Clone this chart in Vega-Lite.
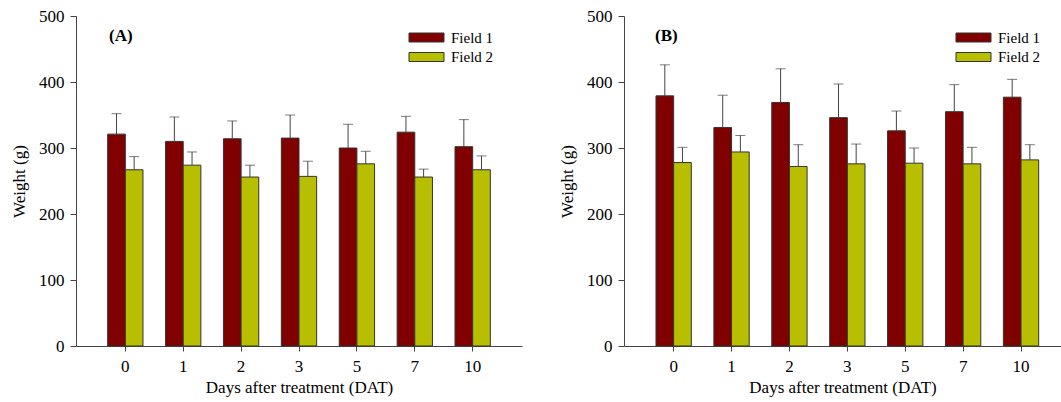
{
  "$schema": "https://vega.github.io/schema/vega-lite/v6.json",
  "padding": {"left": 10, "top": 7, "right": 0, "bottom": 5},
  "spacing": 36,
  "config": {
    "font": "Liberation Serif",
    "view": {"stroke": null},
    "axis": {
      "labelFont": "Liberation Serif", "titleFont": "Liberation Serif",
      "labelFontSize": 17, "titleFontSize": 17, "labelColor": "#000", "titleColor": "#000",
      "titleFontWeight": "normal", "domainColor": "#444", "tickColor": "#444", "grid": false, "tickSize": 6
    },
    "legend": {"labelFont": "Liberation Serif", "labelFontSize": 15, "labelColor": "#000"},
    "title": {"font": "Liberation Serif", "color": "#000"}
  },
  "datasets": {
    "d": [
      {"panel": "A", "day": "0", "field": "Field 1", "mean": 321, "upper": 352},
      {"panel": "A", "day": "0", "field": "Field 2", "mean": 267, "upper": 287},
      {"panel": "A", "day": "1", "field": "Field 1", "mean": 310, "upper": 347},
      {"panel": "A", "day": "1", "field": "Field 2", "mean": 274, "upper": 294},
      {"panel": "A", "day": "2", "field": "Field 1", "mean": 314, "upper": 341},
      {"panel": "A", "day": "2", "field": "Field 2", "mean": 256, "upper": 274},
      {"panel": "A", "day": "3", "field": "Field 1", "mean": 315, "upper": 350},
      {"panel": "A", "day": "3", "field": "Field 2", "mean": 257, "upper": 280},
      {"panel": "A", "day": "5", "field": "Field 1", "mean": 300, "upper": 336},
      {"panel": "A", "day": "5", "field": "Field 2", "mean": 276, "upper": 295},
      {"panel": "A", "day": "7", "field": "Field 1", "mean": 324, "upper": 348},
      {"panel": "A", "day": "7", "field": "Field 2", "mean": 256, "upper": 268},
      {"panel": "A", "day": "10", "field": "Field 1", "mean": 302, "upper": 343},
      {"panel": "A", "day": "10", "field": "Field 2", "mean": 267, "upper": 288},
      {"panel": "B", "day": "0", "field": "Field 1", "mean": 379, "upper": 426},
      {"panel": "B", "day": "0", "field": "Field 2", "mean": 278, "upper": 301},
      {"panel": "B", "day": "1", "field": "Field 1", "mean": 331, "upper": 380},
      {"panel": "B", "day": "1", "field": "Field 2", "mean": 294, "upper": 319},
      {"panel": "B", "day": "2", "field": "Field 1", "mean": 369, "upper": 420},
      {"panel": "B", "day": "2", "field": "Field 2", "mean": 272, "upper": 305},
      {"panel": "B", "day": "3", "field": "Field 1", "mean": 346, "upper": 397},
      {"panel": "B", "day": "3", "field": "Field 2", "mean": 276, "upper": 306},
      {"panel": "B", "day": "5", "field": "Field 1", "mean": 326, "upper": 356},
      {"panel": "B", "day": "5", "field": "Field 2", "mean": 277, "upper": 300},
      {"panel": "B", "day": "7", "field": "Field 1", "mean": 355, "upper": 396},
      {"panel": "B", "day": "7", "field": "Field 2", "mean": 276, "upper": 301},
      {"panel": "B", "day": "10", "field": "Field 1", "mean": 377, "upper": 404},
      {"panel": "B", "day": "10", "field": "Field 2", "mean": 282, "upper": 305}
    ]
  },
  "resolve": {"legend": {"color": "independent"}},
  "hconcat": [
    {
      "width": 446, "height": 330,
      "title": {"text": "(A)", "anchor": "start", "frame": "group", "offset": -51, "dx": 33, "fontSize": 17, "fontWeight": "bold", "baseline": "alphabetic"},
      "data": {"name": "d"},
      "transform": [{"filter": "datum.panel == 'A'"}],
      "encoding": {
        "x": {"field": "day", "type": "ordinal", "sort": ["0", "1", "2", "3", "5", "7", "10"],
              "scale": {"paddingInner": 0.39, "paddingOuter": 0.547},
              "axis": {"labelAngle": 0, "title": "Days after treatment (DAT)", "tickSize": 5, "labelPadding": 7, "titlePadding": 5}},
        "xOffset": {"field": "field", "type": "nominal", "sort": ["Field 1", "Field 2"], "scale": {"paddingInner": 0, "paddingOuter": 0}}
      },
      "layer": [
        {
          "mark": {"type": "bar", "stroke": "#333", "strokeWidth": 1},
          "encoding": {
            "y": {"field": "mean", "type": "quantitative", "scale": {"domain": [0, 500]},
                  "axis": {"values": [0, 100, 200, 300, 400, 500], "title": "Weight (g)", "labelPadding": 6, "titlePadding": 10}},
            "color": {"field": "field", "type": "nominal",
                      "scale": {"domain": ["Field 1", "Field 2"], "range": ["#800000", "#b8bf00"]},
                      "legend": {"title": null, "orient": "none", "legendX": 343, "legendY": 14, "symbolType": "M-3.89,-1H3.89V1H-3.89Z", "symbolSize": 81, "symbolStrokeColor": "#333", "symbolStrokeWidth": 1, "symbolOpacity": 1, "labelOffset": 17, "rowPadding": 3.5}}
          }
        },
        {
          "mark": {"type": "rule", "color": "#444", "strokeWidth": 1},
          "encoding": {"y": {"field": "mean", "type": "quantitative"}, "y2": {"field": "upper"}}
        },
        {
          "mark": {"type": "tick", "color": "#444", "thickness": 1, "size": 10},
          "encoding": {"y": {"field": "upper", "type": "quantitative"}}
        }
      ]
    },
    {
      "width": 437, "height": 330,
      "title": {"text": "(B)", "anchor": "start", "frame": "group", "offset": -51, "dx": 31, "fontSize": 17, "fontWeight": "bold", "baseline": "alphabetic"},
      "data": {"name": "d"},
      "transform": [{"filter": "datum.panel == 'B'"}],
      "encoding": {
        "x": {"field": "day", "type": "ordinal", "sort": ["0", "1", "2", "3", "5", "7", "10"],
              "scale": {"paddingInner": 0.39, "paddingOuter": 0.469, "align": 0.589},
              "axis": {"labelAngle": 0, "title": "Days after treatment (DAT)", "tickSize": 5, "labelPadding": 7, "titlePadding": 5}},
        "xOffset": {"field": "field", "type": "nominal", "sort": ["Field 1", "Field 2"], "scale": {"paddingInner": 0, "paddingOuter": 0}}
      },
      "layer": [
        {
          "mark": {"type": "bar", "stroke": "#333", "strokeWidth": 1},
          "encoding": {
            "y": {"field": "mean", "type": "quantitative", "scale": {"domain": [0, 500]},
                  "axis": {"values": [0, 100, 200, 300, 400, 500], "title": "Weight (g)", "labelPadding": 6, "titlePadding": 10}},
            "color": {"field": "field", "type": "nominal",
                      "scale": {"domain": ["Field 1", "Field 2"], "range": ["#800000", "#b8bf00"]},
                      "legend": {"title": null, "orient": "none", "legendX": 342, "legendY": 14, "symbolType": "M-3.89,-1H3.89V1H-3.89Z", "symbolSize": 81, "symbolStrokeColor": "#333", "symbolStrokeWidth": 1, "symbolOpacity": 1, "labelOffset": 17, "rowPadding": 3.5}}
          }
        },
        {
          "mark": {"type": "rule", "color": "#444", "strokeWidth": 1},
          "encoding": {"y": {"field": "mean", "type": "quantitative"}, "y2": {"field": "upper"}}
        },
        {
          "mark": {"type": "tick", "color": "#444", "thickness": 1, "size": 10},
          "encoding": {"y": {"field": "upper", "type": "quantitative"}}
        }
      ]
    }
  ]
}
